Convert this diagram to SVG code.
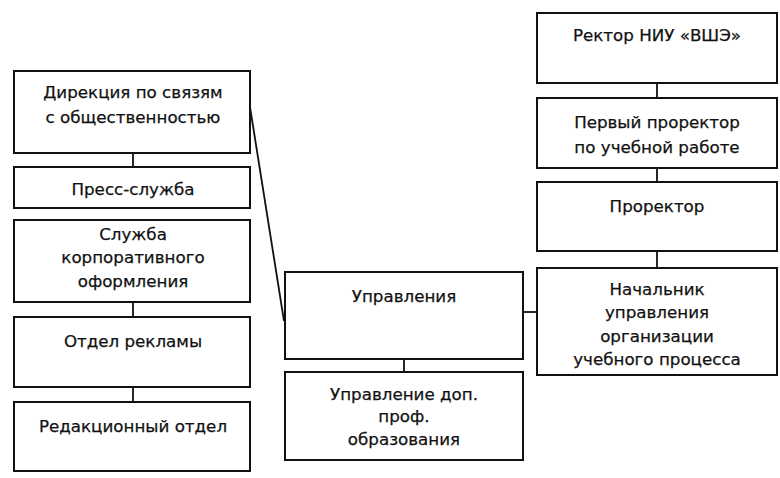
<svg xmlns="http://www.w3.org/2000/svg" width="780" height="478" viewBox="0 0 780 478">
<style>
.box{fill:#fff;stroke:#111;stroke-width:2}
.ln{stroke:#111;stroke-width:1.8;fill:none}
text{font-family:"DejaVu Sans","Liberation Sans",Arial,sans-serif;font-size:16.7px;fill:#111;stroke:#111;stroke-width:0.25;text-anchor:middle}
</style>
<rect width="780" height="478" fill="#fff"/>
<g id="connectors">
<line class="ln" x1="133" y1="153" x2="133" y2="167"/>
<line class="ln" x1="133" y1="302" x2="133" y2="317"/>
<line class="ln" x1="133" y1="387" x2="133" y2="402"/>
<line class="ln" x1="250" y1="107" x2="284" y2="321"/>
<line class="ln" x1="404" y1="359" x2="404" y2="372"/>
<line class="ln" x1="523" y1="312" x2="537" y2="312"/>
<line class="ln" x1="657" y1="83" x2="657" y2="98"/>
<line class="ln" x1="657" y1="168" x2="657" y2="182"/>
<line class="ln" x1="657" y1="251" x2="657" y2="268"/>
</g>
<g id="direkciya"><rect class="box" x="14" y="71" width="236" height="82"/><text x="133" y="98">Дирекция по связям</text><text x="133" y="123">с общественностью</text></g>
<g id="press"><rect class="box" x="14" y="167" width="236" height="41"/><text x="133" y="195">Пресс-служба</text></g>
<g id="sluzhba"><rect class="box" x="14" y="220" width="236" height="82"/><text x="133" y="240">Служба</text><text x="133" y="263">корпоративного</text><text x="133" y="287">оформления</text></g>
<g id="reklama"><rect class="box" x="14" y="317" width="236" height="70"/><text x="133" y="347">Отдел рекламы</text></g>
<g id="redakciya"><rect class="box" x="14" y="402" width="236" height="69"/><text x="133" y="432">Редакционный отдел</text></g>
<g id="upravleniya"><rect class="box" x="285" y="272" width="238" height="87"/><text x="404" y="302">Управления</text></g>
<g id="dpo"><rect class="box" x="285" y="372" width="238" height="88"/><text x="404" y="400">Управление доп.</text><text x="404" y="422">проф.</text><text x="404" y="445">образования</text></g>
<g id="rektor"><rect class="box" x="537" y="13" width="240" height="70"/><text x="657" y="41">Ректор НИУ «ВШЭ»</text></g>
<g id="pervyi"><rect class="box" x="537" y="98" width="240" height="70"/><text x="657" y="128">Первый проректор</text><text x="657" y="153">по учебной работе</text></g>
<g id="prorektor"><rect class="box" x="537" y="182" width="240" height="69"/><text x="657" y="212">Проректор</text></g>
<g id="nachalnik"><rect class="box" x="537" y="268" width="240" height="107"/><text x="657" y="295">Начальник</text><text x="657" y="318">управления</text><text x="657" y="342">организации</text><text x="657" y="365">учебного процесса</text></g>
</svg>
